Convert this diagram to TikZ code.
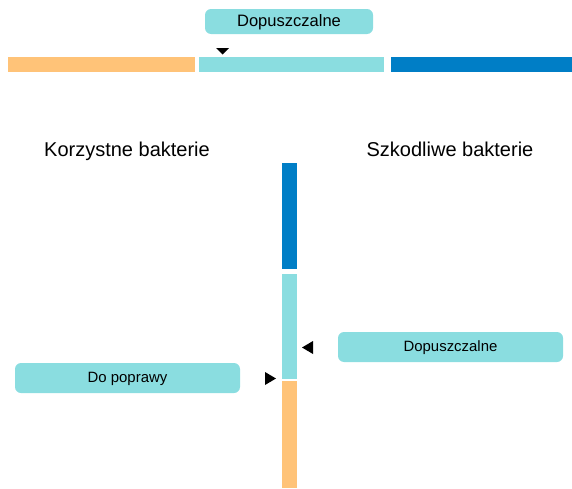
\documentclass[tikz,border=0pt]{standalone}
\usepackage{fontspec}
\setmainfont{Liberation Sans}
\definecolor{barorange}{RGB}{255,195,120}
\definecolor{barteal}{RGB}{138,221,224}
\definecolor{barblue}{RGB}{0,126,198}
\tikzset{every picture/.style={line width=0.75pt}}
\tikzset{
  tagbox/.style={fill=barteal, rounded corners=4.5pt, inner sep=0pt, align=center, text height=0.72em, text depth=0pt},
  headtext/.style={font=\fontsize{15}{18}\selectfont, anchor=base}
}

\begin{document}
\begin{tikzpicture}[x=0.75pt,y=0.75pt,yscale=-1,xscale=1]
	\useasboundingbox (0,0) rectangle (572,489);

	%Shape: Horizontal scale
	\fill [barorange] (8,57) rectangle (195,71.5);
	\fill [barteal] (199,57) rectangle (384,71.5);
	\fill [barblue] (391,57) rectangle (572,71.5);

	%Shape: Vertical scale
	\fill [barblue] (282,163) rectangle (297,269);
	\fill [barteal] (282,274) rectangle (297,379);
	\fill [barorange] (282,381) rectangle (297,488);

	%Triangle markers
	\fill [black] (216,48) -- (229,48) -- (222.5,54.5) -- cycle ;
	\fill [black] (265,372) -- (276,378.5) -- (265,385) -- cycle ;
	\fill [black] (313,341) -- (302,347.5) -- (313,354) -- cycle ;

	% Text Node
	\draw (289,21.5) node [tagbox, minimum width=168*0.75pt, minimum height=25*0.75pt, font=\fontsize{12.4}{15}\selectfont] (topTag) {Dopuszczalne};
	% Text Node
	\draw (127.5,378) node [tagbox, minimum width=225*0.75pt, minimum height=30*0.75pt, font=\fontsize{11.2}{14}\selectfont] (leftTag) {Do poprawy};
	% Text Node
	\draw (450.5,347) node [tagbox, minimum width=225*0.75pt, minimum height=30*0.75pt, font=\fontsize{11.2}{14}\selectfont] (rightTag) {Dopuszczalne};
	% Text Node
	\draw (127,156) node [headtext] (goodHead) {Korzystne bakterie};
	% Text Node
	\draw (450,156) node [headtext] (badHead) {Szkodliwe bakterie};

\end{tikzpicture}
\end{document}
